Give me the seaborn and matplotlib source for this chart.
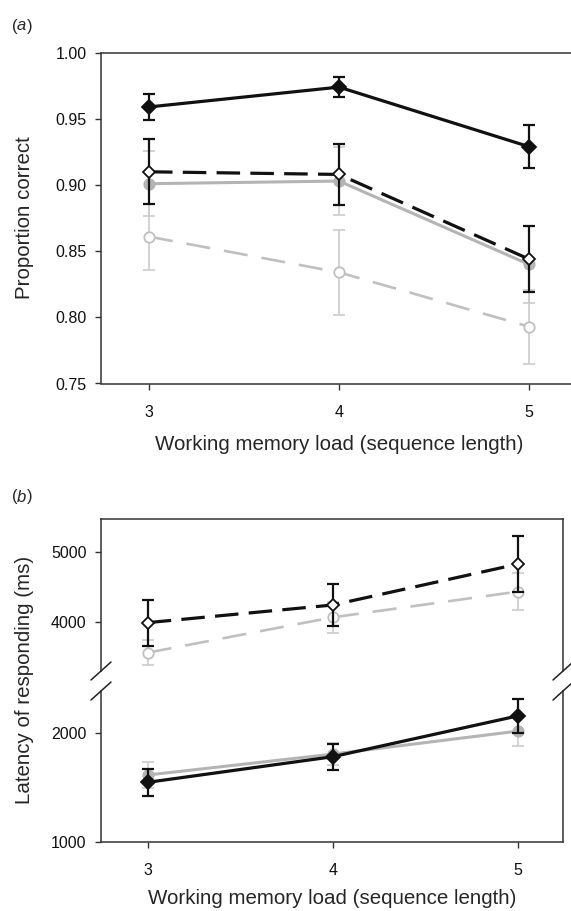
import numpy as np
import pandas as pd
import matplotlib
matplotlib.use("Agg")
import matplotlib.pyplot as plt
import seaborn as sns
from matplotlib.lines import Line2D

# ---------------- data ----------------
loads = [3, 4, 5]
tick_labels_x = ["3", "4", "5"]

# panel (a): proportion correct
acc_black_solid = [0.959, 0.974, 0.929]
acc_black_solid_err = [0.010, 0.0075, 0.0165]
acc_black_dashed = [0.910, 0.908, 0.844]
acc_black_dashed_err = [0.0245, 0.023, 0.025]
acc_gray_solid = [0.901, 0.903, 0.840]
acc_gray_solid_err = [0.0245, 0.026, 0.029]
acc_gray_dashed = [0.861, 0.834, 0.793]
acc_gray_dashed_err = [0.025, 0.032, 0.028]

# panel (b): latency (ms)
lat_black_dashed = [3995, 4245, 4825]
lat_black_dashed_err = [325, 295, 400]
lat_gray_dashed = [3570, 4070, 4435]
lat_gray_dashed_err = [180, 215, 260]
lat_black_solid = [1545, 1780, 2155]
lat_black_solid_err = [122, 118, 153]
lat_gray_solid = [1612, 1804, 2015]
lat_gray_solid_err = [122, 100, 134]

a_yticks = [0.75, 0.80, 0.85, 0.90, 0.95, 1.00]
b_upper_yticks = [4000, 5000]
b_lower_yticks = [1000, 2000]

# ---------------- style ----------------
sns.set_style("ticks")
plt.rcParams["font.family"] = ["Liberation Sans", "DejaVu Sans"]

W, H = 571, 911
fig = plt.figure(figsize=(W / 100, H / 100), dpi=100)


def px_axes(left, top, right, bottom):
    return fig.add_axes([left / W, 1 - bottom / H, (right - left) / W, (bottom - top) / H])


BLACK = "#111111"
GRAY_S = "#b4b4b4"
GRAY_D = "#c0c0c0"
GRAY_E = "#cccccc"

styles = {
    "gray_dashed": dict(color=GRAY_D, lw=1.9, dash=(4.8, 2.8), marker="o", mfc="white",
                        mec=GRAY_D, ms=7.5, ecol=GRAY_E, elw=1.2, z=2),
    "gray_solid": dict(color=GRAY_S, lw=2.2, dash=None, marker="o", mfc=GRAY_S,
                       mec=GRAY_S, ms=7.5, ecol=GRAY_E, elw=1.2, z=3),
    "black_dashed": dict(color=BLACK, lw=2.3, dash=(3.2, 1.4), marker="D", mfc="white",
                         mec=BLACK, ms=6.5, ecol=BLACK, elw=1.6, z=4),
    "black_solid": dict(color=BLACK, lw=2.3, dash=None, marker="D", mfc=BLACK,
                        mec=BLACK, ms=7, ecol=BLACK, elw=1.6, z=5),
}


def draw(ax, vals, errs, key):
    s = styles[key]
    ax.errorbar(loads, vals, yerr=errs, fmt="none", ecolor=s["ecol"], elinewidth=s["elw"],
                capsize=4.5, capthick=s["elw"], zorder=s["z"])
    df = pd.DataFrame({"load": loads, "val": vals})
    sns.lineplot(data=df, x="load", y="val", ax=ax, color=s["color"], lw=s["lw"],
                 marker=s["marker"], markersize=s["ms"], markerfacecolor=s["mfc"],
                 markeredgecolor=s["mec"], markeredgewidth=1.3, zorder=s["z"] + 0.5,
                 legend=False)
    line = ax.lines[-1]
    if s["dash"] is not None:
        line.set_dashes([d * s["lw"] for d in s["dash"]])
        line.set_dash_capstyle("butt")


def style_axes(ax):
    for sp in ax.spines.values():
        sp.set_linewidth(1.1)
        sp.set_color("#333333")
        sp.set_visible(True)
    ax.tick_params(axis="both", direction="out", length=4.5, width=1.0, color="#333333",
                   labelsize=11.5, labelcolor="#111111")
    ax.tick_params(axis="y", pad=6)
    ax.tick_params(axis="x", pad=11)
    ax.grid(False)


def panel_label(y, letter):
    fig.text(12 / W, 1 - y / H, "(", fontsize=12, va="center", ha="left")
    fig.text(17 / W, 1 - y / H, letter, fontsize=12, style="italic", va="center", ha="left")
    fig.text(26.5 / W, 1 - y / H, ")", fontsize=12, va="center", ha="left")


# ---------------- panel (a) ----------------
axa = px_axes(101, 52.7, 577, 383.5)
draw(axa, acc_gray_dashed, acc_gray_dashed_err, "gray_dashed")
draw(axa, acc_gray_solid, acc_gray_solid_err, "gray_solid")
draw(axa, acc_black_dashed, acc_black_dashed_err, "black_dashed")
draw(axa, acc_black_solid, acc_black_solid_err, "black_solid")
axa.set_xlim(3 - 48 / 190, 5 + 48 / 190)
axa.set_ylim(0.75, 1.00)
axa.set_yticks(a_yticks)
axa.set_yticklabels([f"{v:.2f}" for v in a_yticks])
axa.set_xticks(loads)
axa.set_xticklabels(tick_labels_x)
style_axes(axa)
axa.set_xlabel("Working memory load (sequence length)", fontsize=14.8)
axa.set_ylabel("Proportion correct", fontsize=14.8)
axa.xaxis.label.set_va("center")
axa.xaxis.set_label_coords(0.5, (383.5 - 445) / (383.5 - 52.7))
axa.yaxis.label.set_va("center")
axa.yaxis.set_label_coords((25 - 101) / (577 - 101), 0.5)
panel_label(26, "a")

# ---------------- panel (b) ----------------
B_L, B_R = 101, 563
up_top, up_bot = 519, 671
lo_top, lo_bot = 691, 841.7
axu = px_axes(B_L, up_top, B_R, up_bot)
axl = px_axes(B_L, lo_top, B_R, lo_bot)

draw(axu, lat_gray_dashed, lat_gray_dashed_err, "gray_dashed")
draw(axu, lat_black_dashed, lat_black_dashed_err, "black_dashed")
draw(axl, lat_gray_solid, lat_gray_solid_err, "gray_solid")
draw(axl, lat_black_solid, lat_black_solid_err, "black_solid")

xl = (3 - 46.7 / 185, 5 + 45 / 185)
for ax in (axu, axl):
    ax.set_xlim(*xl)
    style_axes(ax)

axu.set_ylim(3310, 5463)
axu.set_yticks(b_upper_yticks)
axu.set_yticklabels([str(v) for v in b_upper_yticks])
axu.set_xticks([])
axu.spines["bottom"].set_visible(False)
axu.set_xlabel("")
axu.set_ylabel("")

axl.set_ylim(1000, 2383)
axl.set_yticks(b_lower_yticks)
axl.set_yticklabels([str(v) for v in b_lower_yticks])
axl.set_xticks(loads)
axl.set_xticklabels(tick_labels_x)
axl.spines["top"].set_visible(False)
axl.set_xlabel("Working memory load (sequence length)", fontsize=14.8)
axl.xaxis.label.set_va("center")
axl.xaxis.set_label_coords(0.5, (lo_bot - 899) / (lo_bot - lo_top))
axl.set_ylabel("Latency of responding (ms)", fontsize=14.8)
axl.yaxis.label.set_va("center")
axl.yaxis.set_label_coords((25 - B_L) / (B_R - B_L), (lo_bot - 680) / (lo_bot - lo_top))

# break marks
for xc in (B_L, B_R):
    for yc in (up_bot, lo_top):
        fig.add_artist(Line2D([(xc - 10) / W, (xc + 10) / W],
                              [1 - (yc + 9) / H, 1 - (yc - 9) / H],
                              color="#222222", lw=1.1))

panel_label(497, "b")

fig.savefig("out.png", dpi=100)
